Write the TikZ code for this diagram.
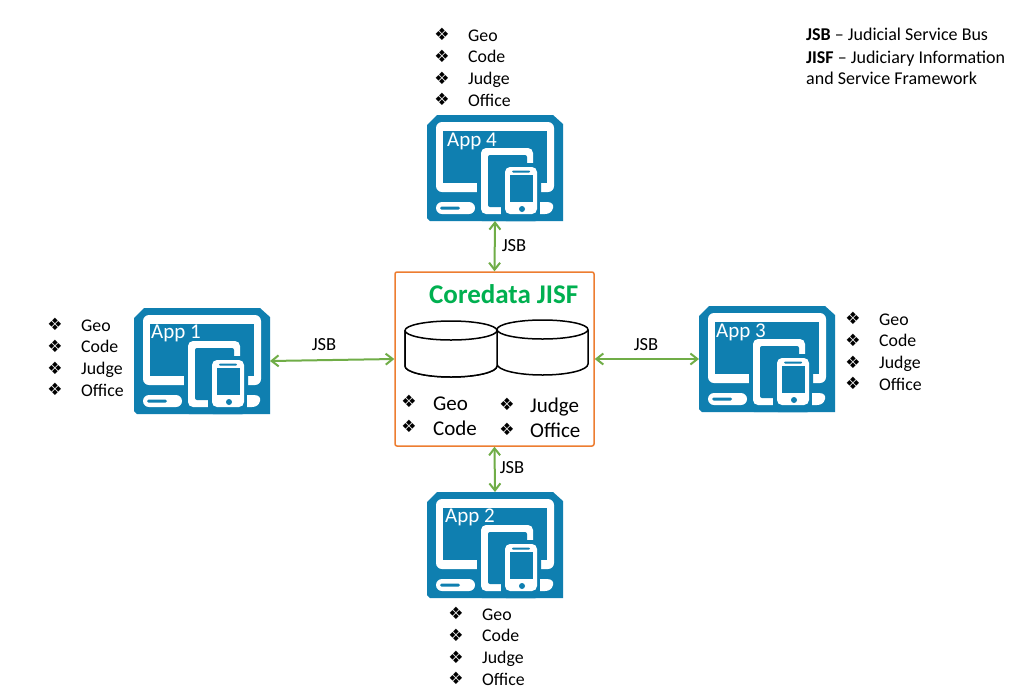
\documentclass[tikz,border=0pt]{standalone}
\usepackage{fontspec}
\setmainfont{Carlito}
\newfontfamily\bulletfont{DejaVu Sans}
\usetikzlibrary{arrows.meta}
\definecolor{appblue}{HTML}{0F7FB0}
\definecolor{linkgreen}{HTML}{70AD47}
\definecolor{boxorange}{HTML}{ED7D31}
\definecolor{titlegreen}{HTML}{00B050}
\tikzset{
  x=1pt,y=-1pt,
  appbox/.style={minimum width=136pt,minimum height=106pt,inner sep=0pt,outer sep=0pt},
  applabel/.style={anchor=base west,text=white,inner sep=0pt,font=\fontsize{21}{24}\selectfont},
  item/.style={anchor=base west,inner sep=0pt,font=\fontsize{17.8}{20}\selectfont},
  bigitem/.style={anchor=base west,inner sep=0pt,font=\fontsize{21}{23}\selectfont},
  mark bullet/.style={anchor=center,inner sep=0pt,font=\bulletfont\fontsize{17}{18}\selectfont},
  link/.style={draw=linkgreen,line width=2pt,{Straight Barb[length=7pt,width=11pt,line width=2pt]}-{Straight Barb[length=7pt,width=11pt,line width=2pt]}},
  linklabel/.style={inner sep=0pt,font=\fontsize{18.5}{20}\selectfont},
  legendline/.style={anchor=base west,inner sep=0pt,font=\fontsize{18}{20}\selectfont},
  drum/.style={draw=black,line width=1.5pt,fill=white},
  % monitor, tablet and phone glyph; origin is the top-left corner
  appicon/.pic={
    \fill[appblue] (0,10) -- (10,0) -- (126,0) -- (136,9) -- (136,106) -- (3,106) -- (0,103) -- cycle;
    \fill[white,rounded corners=6pt] (9,7) rectangle (127,77);
    \fill[appblue] (16,16) rectangle (120,68);
    \fill[appblue,rounded corners=5pt] (50,29) rectangle (114,106);
    \fill[white,rounded corners=5pt] (54,33) rectangle (106,99);
    \fill[appblue,rounded corners=2pt] (61,40) rectangle (100,92);
    \fill[appblue,rounded corners=5pt] (74,48) rectangle (113,106);
    \fill[white,rounded corners=5pt] (78,52) rectangle (110,99);
    \fill[appblue] (83,60) rectangle (106,87);
    \fill[appblue,rounded corners=1pt] (85,55.5) rectangle (103,57.5);
    \fill[appblue] (95,94) circle[radius=3];
    \fill[white,rounded corners=6pt] (9,87) rectangle (48,99);
    \fill[appblue,rounded corners=1.5pt] (13,91.5) rectangle (33,94.5);
    \fill[white] (113,87) -- (120,87) .. controls (125,87) and (127,90) .. (126,93) .. controls (125,97) and (122,99) .. (118,99) -- (113,99) -- cycle;
  }
}
% four-entry field list: name prefix, bullet x, text x, first baseline
\newcommand{\fieldlist}[4]{%
  \foreach \lbl [count=\i] in {Geo,Code,Judge,Office} {
    \node[mark bullet] (#1b\i) at (#2,#4-6.5+21.7*\i-21.7) {❖};
    \node[item] (#1t\i) at (#3,#4+21.7*\i-21.7) {\lbl};
  }%
}
\begin{document}
\begin{tikzpicture}
  \useasboundingbox (0,0) rectangle (1017,689);
  \fill[white] (0,0) rectangle (1017,689);

  % application tiles
  \node[appbox] (app4) at (495,168) {};
  \pic at (427,115) {appicon};
  \node[applabel] (app4l) at (447,146) {App 4};

  \node[appbox] (app2) at (495,545) {};
  \pic at (427,492) {appicon};
  \node[applabel] (app2l) at (445,522) {App 2};

  \node[appbox] (app1) at (202,361) {};
  \pic at (134,308) {appicon};
  \node[applabel] (app1l) at (151,338) {App 1};

  \node[appbox] (app3) at (767,359) {};
  \pic at (699,306) {appicon};
  \node[applabel] (app3l) at (716,337) {App 3};

  % central data store
  \node[draw=boxorange,line width=1.5pt,rounded corners=2pt,minimum width=199pt,minimum height=174pt,inner sep=0pt,outer sep=0.7pt] (core) at (494.5,359) {};
  \node[anchor=base west,inner sep=0pt,text=titlegreen,font=\bfseries\fontsize{27}{30}\selectfont] (title) at (429,303) {Coredata JISF};

  \path[drum] (497,339) -- (497,366) arc[start angle=0,end angle=-180,x radius=46,y radius=-11] -- (405,330.5);
  \draw[drum] (588,330) -- (588,364) arc[start angle=0,end angle=-180,x radius=45.5,y radius=-11] -- (497,330);
  \draw[drum] (405,330.5) -- (405,366) arc[start angle=180,end angle=0,x radius=46,y radius=11] -- (497,330.5);
  \draw[drum] (451,330.5) ellipse[x radius=46,y radius=9.5];
  \draw[drum] (542.5,329.5) ellipse[x radius=45.5,y radius=9.5];

  \node[mark bullet] (cb1) at (409,401.5) {❖};
  \node[mark bullet] (cb2) at (409,426.5) {❖};
  \node[mark bullet] (cb3) at (507,404.5) {❖};
  \node[mark bullet] (cb4) at (507,429.5) {❖};
  \node[bigitem] (ct1) at (433,410) {Geo};
  \node[bigitem] (ct2) at (433,435) {Code};
  \node[bigitem] (ct3) at (530,412) {Judge};
  \node[bigitem] (ct4) at (530,437) {Office};

  % service bus links
  \draw[link] (app4.south) -- (core.north);
  \draw[link] (core.south) -- (app2.north);
  \draw[link] (app1.east) -- (core.west);
  \draw[link] (core.east) -- (app3.west);
  \node[linklabel] (jsb4) at (514,246) {JSB};
  \node[linklabel] (jsb2) at (512,468) {JSB};
  \node[linklabel] (jsb1) at (324,345) {JSB};
  \node[linklabel] (jsb3) at (646,345) {JSB};

  % per-application field lists
  \fieldlist{l4}{442}{468}{41}
  \fieldlist{l2}{456}{482}{620}
  \fieldlist{l1}{55}{81}{331}
  \fieldlist{l3}{853}{879}{325}

  % abbreviations
  \node[legendline] (leg1) at (806,40) {\textbf{JSB} – Judicial Service Bus};
  \node[legendline] (leg2) at (806,63) {\textbf{JISF} – Judiciary Information};
  \node[legendline] (leg3) at (806,84) {and Service Framework};
\end{tikzpicture}
\end{document}
